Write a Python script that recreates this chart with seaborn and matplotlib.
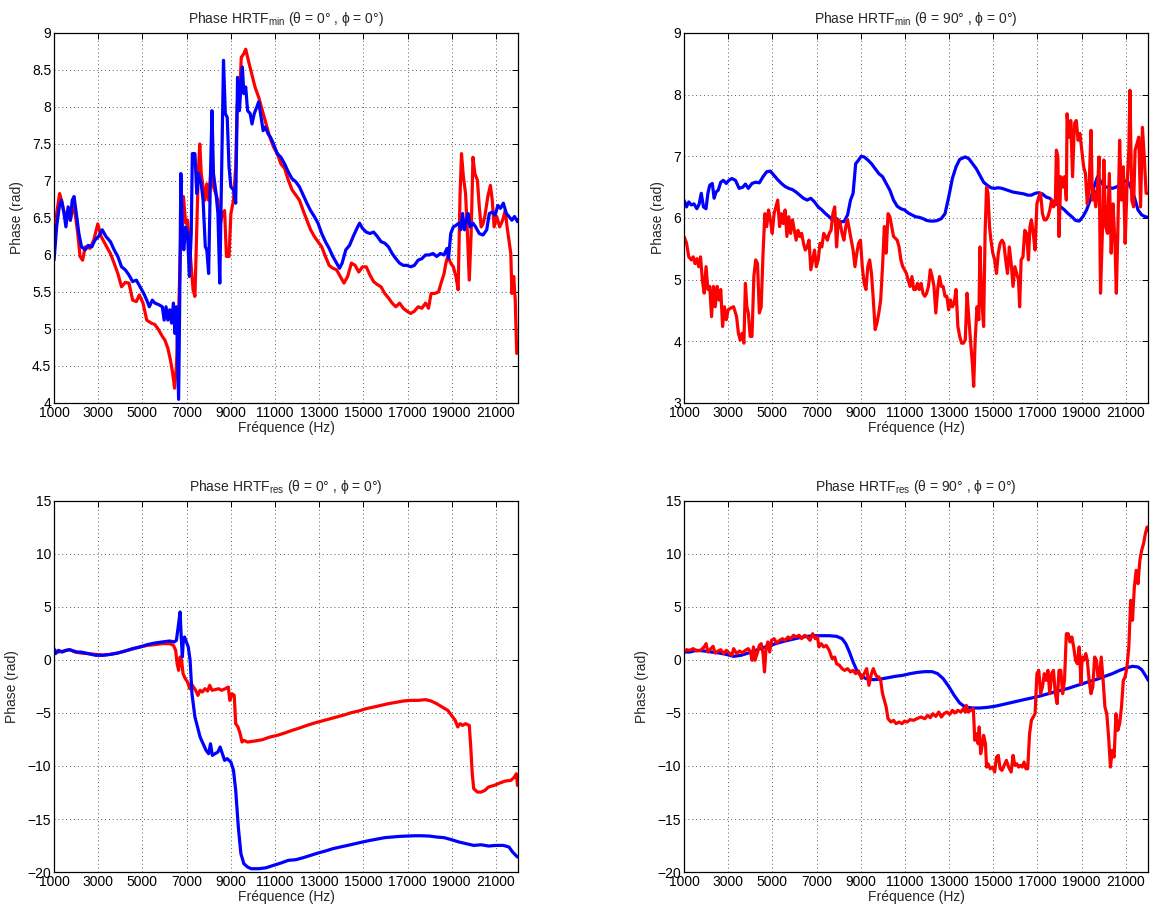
import matplotlib
matplotlib.use("Agg")
import matplotlib.pyplot as plt
import seaborn as sns

# top left: HRTF min, theta = 0
tl_red = [(1000, 6.02), (1117, 6.56), (1252, 6.83), (1369, 6.70), (1487, 6.52), (1621, 6.60), (1738, 6.47),
          (1873, 6.65), (1956, 6.56), (2074, 6.29), (2175, 5.98), (2292, 5.93), (2410, 6.11), (2628, 6.09),
          (2795, 6.20), (2980, 6.42), (3131, 6.25), (3383, 6.11), (3551, 6.02), (3718, 5.89), (3886, 5.75),
          (4054, 5.57), (4222, 5.63), (4390, 5.62), (4557, 5.39), (4725, 5.37), (4859, 5.46), (5027, 5.35),
          (5195, 5.12), (5396, 5.08), (5564, 5.06), (5732, 4.99), (5900, 4.90), (6017, 4.85), (6151, 4.74),
          (6269, 4.58), (6370, 4.40), (6454, 4.20), (6537, 4.49), (6655, 5.39), (6739, 6.29), (6856, 6.79),
          (6957, 6.43), (7041, 6.47), (7125, 6.16), (7209, 5.84), (7293, 5.53), (7376, 5.44), (7444, 6.20),
          (7527, 7.10), (7595, 7.50), (7662, 7.10), (7746, 6.92), (7829, 6.74), (7913, 6.96), (7997, 6.74),
          (8115, 7.19), (8215, 6.92), (8316, 6.83), (8417, 6.74), (8501, 6.38), (8618, 6.56), (8719, 6.60),
          (8803, 5.98), (8920, 5.98), (9004, 6.56), (9122, 6.74), (9222, 7.19), (9289, 8.04), (9390, 8.09),
          (9474, 8.67), (9591, 8.72), (9675, 8.78), (9793, 8.63), (9927, 8.47), (10095, 8.27), (10263, 8.13),
          (10430, 7.95), (10598, 7.77), (10766, 7.59), (10934, 7.46), (11102, 7.37), (11269, 7.23),
          (11437, 7.17), (11605, 7.01), (11773, 6.88), (11941, 6.81), (12108, 6.74), (12276, 6.60),
          (12444, 6.47), (12612, 6.34), (12780, 6.25), (12947, 6.18), (13115, 6.11), (13283, 5.98),
          (13451, 5.86), (13619, 5.82), (13786, 5.80), (13954, 5.71), (14122, 5.62), (14290, 5.71),
          (14458, 5.89), (14625, 5.86), (14793, 5.77), (14961, 5.84), (15129, 5.84), (15297, 5.73),
          (15464, 5.64), (15632, 5.60), (15800, 5.57), (15968, 5.48), (16136, 5.42), (16303, 5.35),
          (16471, 5.30), (16639, 5.35), (16807, 5.28), (16975, 5.24), (17142, 5.21), (17310, 5.24),
          (17478, 5.30), (17646, 5.28), (17814, 5.35), (17948, 5.28), (18065, 5.48), (18233, 5.48),
          (18401, 5.50), (18518, 5.62), (18653, 5.75), (18736, 5.89), (18820, 5.98), (18955, 5.89),
          (19072, 5.84), (19190, 5.71), (19290, 5.53), (19374, 6.79), (19442, 7.37), (19526, 7.06),
          (19626, 6.83), (19710, 6.29), (19794, 5.66), (19878, 6.29), (19962, 7.32), (20045, 7.10),
          (20163, 7.01), (20247, 6.65), (20331, 6.38), (20414, 6.42), (20498, 6.52), (20633, 6.79),
          (20750, 6.94), (20834, 6.74), (20918, 6.38), (21035, 6.52), (21170, 6.38), (21304, 6.47),
          (21421, 6.60), (21505, 6.38), (21589, 6.20), (21673, 6.02), (21723, 5.48), (21807, 5.71),
          (21874, 5.39), (21941, 4.67)]

tl_blue = [(1000, 5.93), (1117, 6.38), (1235, 6.65), (1336, 6.74), (1453, 6.56), (1537, 6.38), (1638, 6.65),
           (1738, 6.47), (1822, 6.74), (1906, 6.79), (2007, 6.56), (2124, 6.29), (2242, 6.11), (2410, 6.07),
           (2544, 6.13), (2712, 6.11), (2846, 6.20), (3014, 6.25), (3181, 6.34), (3349, 6.25), (3551, 6.18),
           (3718, 6.07), (3886, 5.98), (4054, 5.84), (4222, 5.80), (4390, 5.73), (4557, 5.64), (4725, 5.66),
           (4893, 5.57), (5061, 5.48), (5195, 5.39), (5312, 5.30), (5447, 5.39), (5564, 5.35), (5732, 5.33),
           (5900, 5.30), (5984, 5.12), (6068, 5.30), (6151, 5.12), (6235, 5.26), (6319, 5.08), (6403, 5.35),
           (6470, 4.94), (6537, 5.30), (6588, 4.67), (6638, 4.05), (6688, 5.39), (6739, 7.10), (6823, 6.20),
           (6873, 6.07), (6957, 6.38), (7041, 6.29), (7125, 5.71), (7209, 6.29), (7259, 7.37), (7376, 7.37),
           (7460, 6.83), (7544, 7.10), (7662, 6.96), (7746, 6.74), (7846, 6.11), (7913, 6.07), (7997, 5.75),
           (8081, 7.10), (8148, 7.95), (8215, 7.10), (8333, 6.83), (8417, 6.56), (8501, 5.62), (8585, 7.10),
           (8669, 8.63), (8752, 7.91), (8837, 7.86), (8920, 7.19), (9004, 6.92), (9122, 6.88), (9222, 6.70),
           (9306, 8.40), (9390, 7.95), (9457, 8.27), (9524, 8.54), (9591, 8.18), (9675, 8.27), (9759, 7.95),
           (9877, 7.91), (9961, 7.77), (10061, 7.91), (10179, 8.00), (10263, 8.07), (10346, 7.91),
           (10464, 7.68), (10565, 7.73), (10682, 7.64), (10800, 7.59), (10934, 7.50), (11102, 7.37),
           (11269, 7.32), (11437, 7.23), (11605, 7.12), (11773, 7.03), (11941, 6.99), (12108, 6.92),
           (12276, 6.81), (12444, 6.70), (12612, 6.60), (12780, 6.52), (12947, 6.43), (13115, 6.29),
           (13283, 6.18), (13451, 6.09), (13619, 5.98), (13786, 5.89), (13921, 5.82), (14038, 5.89),
           (14206, 6.07), (14374, 6.13), (14541, 6.25), (14709, 6.36), (14827, 6.43), (14961, 6.36),
           (15129, 6.31), (15297, 6.29), (15464, 6.31), (15632, 6.25), (15800, 6.18), (15968, 6.16),
           (16136, 6.11), (16303, 6.02), (16471, 5.95), (16639, 5.89), (16807, 5.86), (16975, 5.86),
           (17142, 5.84), (17310, 5.86), (17478, 5.93), (17646, 5.95), (17814, 6.00), (17981, 6.00),
           (18149, 6.02), (18317, 5.98), (18485, 6.02), (18653, 6.00), (18787, 6.09), (18854, 5.95),
           (18955, 6.29), (19072, 6.38), (19190, 6.40), (19324, 6.43), (19408, 6.34), (19492, 6.56),
           (19576, 6.34), (19660, 6.47), (19744, 6.56), (19828, 6.38), (19962, 6.43), (20079, 6.38),
           (20247, 6.29), (20414, 6.27), (20583, 6.34), (20700, 6.56), (20834, 6.58), (20968, 6.54),
           (21086, 6.67), (21203, 6.63), (21337, 6.70), (21472, 6.56), (21589, 6.52), (21723, 6.47),
           (21841, 6.52), (21975, 6.45)]

# top right: HRTF min, theta = 90
tr_red = [(1000, 5.70), (1116, 5.59), (1216, 5.37), (1333, 5.32), (1416, 5.37), (1499, 5.26), (1582, 5.34),
          (1666, 5.21), (1749, 5.37), (1832, 4.99), (1915, 4.78), (1998, 5.21), (2082, 4.84), (2165, 4.89),
          (2248, 4.40), (2331, 4.89), (2414, 4.56), (2498, 4.89), (2581, 4.67), (2664, 4.84), (2747, 4.24),
          (2830, 4.56), (2914, 4.35), (2997, 4.51), (3113, 4.54), (3246, 4.56), (3380, 4.40), (3463, 4.13),
          (3546, 4.02), (3629, 4.13), (3712, 3.97), (3779, 4.94), (3845, 4.56), (3912, 4.46), (3995, 4.08),
          (4078, 4.08), (4162, 5.05), (4245, 5.32), (4328, 5.26), (4411, 4.46), (4494, 4.56), (4578, 5.43),
          (4661, 6.07), (4744, 5.86), (4827, 6.13), (4910, 5.97), (4994, 5.75), (5077, 6.07), (5160, 6.18),
          (5243, 6.29), (5326, 5.86), (5410, 6.07), (5493, 5.91), (5576, 6.13), (5659, 5.70), (5742, 6.02),
          (5826, 5.75), (5909, 5.97), (5992, 5.80), (6075, 5.64), (6158, 5.80), (6242, 5.70), (6325, 5.75),
          (6408, 5.59), (6491, 5.48), (6574, 5.53), (6658, 5.64), (6741, 5.16), (6824, 5.32), (6907, 5.48),
          (6990, 5.21), (7074, 5.32), (7157, 5.59), (7240, 5.53), (7323, 5.75), (7406, 5.70), (7490, 5.64),
          (7573, 5.75), (7656, 5.80), (7739, 6.07), (7822, 6.18), (7906, 5.53), (7989, 5.97), (8072, 5.91),
          (8155, 5.75), (8238, 5.64), (8322, 5.86), (8405, 5.97), (8488, 5.80), (8571, 5.64), (8654, 5.48),
          (8738, 5.21), (8821, 5.43), (8904, 5.59), (8987, 5.64), (9070, 5.21), (9154, 4.94), (9237, 4.84),
          (9320, 5.21), (9403, 5.32), (9486, 5.10), (9570, 4.67), (9653, 4.19), (9736, 4.30), (9819, 4.46),
          (9902, 4.67), (9986, 5.21), (10069, 5.86), (10152, 5.43), (10235, 6.07), (10318, 6.02),
          (10402, 5.86), (10485, 5.70), (10568, 5.67), (10651, 5.64), (10734, 5.53), (10818, 5.32),
          (10901, 5.21), (10984, 5.16), (11067, 5.10), (11150, 4.99), (11234, 4.89), (11317, 5.05),
          (11400, 4.84), (11483, 4.84), (11566, 4.94), (11650, 4.84), (11733, 4.94), (11816, 4.78),
          (11899, 4.73), (11982, 4.78), (12066, 4.89), (12149, 5.16), (12232, 5.05), (12315, 4.89),
          (12398, 4.46), (12482, 4.84), (12565, 5.05), (12648, 4.89), (12731, 4.89), (12814, 4.73),
          (12898, 4.73), (12981, 4.51), (13064, 4.67), (13147, 4.56), (13230, 4.62), (13314, 4.84),
          (13397, 4.24), (13480, 4.08), (13563, 3.97), (13646, 3.97), (13730, 4.02), (13813, 4.78),
          (13896, 4.35), (13979, 3.97), (14062, 3.59), (14112, 3.27), (14179, 4.02), (14262, 4.56),
          (14345, 4.35), (14395, 5.53), (14478, 4.67), (14562, 4.24), (14628, 5.75), (14695, 6.50),
          (14761, 6.40), (14828, 5.86), (14894, 5.64), (14978, 5.43), (15061, 5.32), (15144, 5.10),
          (15227, 5.43), (15310, 5.59), (15394, 5.64), (15477, 5.59), (15560, 5.32), (15643, 5.10),
          (15726, 5.53), (15810, 5.26), (15893, 4.89), (15976, 5.21), (16059, 5.10), (16142, 4.99),
          (16192, 4.56), (16259, 5.32), (16342, 5.37), (16425, 5.80), (16508, 5.75), (16591, 5.32),
          (16658, 5.86), (16725, 5.97), (16808, 5.75), (16891, 5.48), (16974, 6.23), (17058, 6.34),
          (17141, 6.40), (17224, 6.07), (17307, 5.97), (17390, 5.97), (17474, 6.02), (17557, 6.13),
          (17640, 6.29), (17723, 6.18), (17806, 6.23), (17856, 7.10), (17923, 6.99), (17973, 5.70),
          (18056, 6.67), (18139, 6.50), (18222, 6.67), (18306, 6.29), (18339, 7.69), (18422, 7.31),
          (18505, 7.58), (18588, 6.67), (18672, 7.53), (18755, 7.58), (18838, 7.26), (18921, 7.37),
          (19005, 7.10), (19088, 6.83), (19171, 6.72), (19254, 6.23), (19337, 6.50), (19421, 7.42),
          (19487, 6.29), (19554, 6.45), (19637, 6.18), (19720, 6.50), (19787, 6.99), (19853, 4.78),
          (19936, 5.75), (20003, 6.94), (20086, 5.86), (20170, 5.75), (20252, 6.72), (20336, 5.43),
          (20419, 6.23), (20502, 5.64), (20569, 4.78), (20635, 5.75), (20718, 7.26), (20802, 6.29),
          (20885, 6.83), (20968, 5.59), (21051, 6.50), (21134, 7.10), (21184, 8.07), (21267, 6.29),
          (21350, 6.18), (21417, 7.10), (21500, 7.20), (21583, 7.31), (21666, 6.18), (21750, 7.47),
          (21833, 6.99), (21916, 6.40), (22016, 6.40)]

tr_blue = [(1000, 6.29), (1116, 6.18), (1216, 6.26), (1333, 6.21), (1449, 6.23), (1582, 6.15), (1682, 6.22),
           (1782, 6.40), (1882, 6.18), (1998, 6.15), (2082, 6.40), (2165, 6.53), (2281, 6.56), (2364, 6.32),
           (2448, 6.42), (2548, 6.45), (2664, 6.58), (2780, 6.61), (2914, 6.56), (3030, 6.61), (3163, 6.64),
           (3330, 6.61), (3496, 6.48), (3662, 6.50), (3779, 6.55), (3912, 6.48), (4078, 6.56), (4245, 6.58),
           (4411, 6.57), (4578, 6.67), (4744, 6.75), (4910, 6.76), (5077, 6.69), (5243, 6.62), (5410, 6.56),
           (5576, 6.51), (5742, 6.48), (5909, 6.46), (6075, 6.42), (6242, 6.37), (6408, 6.32), (6574, 6.29),
           (6741, 6.32), (6907, 6.26), (7074, 6.18), (7240, 6.13), (7406, 6.07), (7573, 6.02), (7739, 5.96),
           (7906, 5.99), (8072, 5.94), (8238, 5.94), (8405, 6.05), (8538, 6.29), (8654, 6.40), (8771, 6.88),
           (8904, 6.94), (9020, 7.00), (9154, 6.99), (9320, 6.94), (9486, 6.88), (9653, 6.80), (9819, 6.72),
           (9986, 6.67), (10152, 6.56), (10318, 6.45), (10485, 6.29), (10651, 6.19), (10818, 6.15),
           (10984, 6.13), (11150, 6.08), (11317, 6.05), (11483, 6.02), (11650, 6.01), (11816, 5.99),
           (11982, 5.96), (12149, 5.95), (12315, 5.95), (12482, 5.96), (12648, 5.99), (12814, 6.07),
           (12981, 6.34), (13147, 6.64), (13314, 6.83), (13480, 6.95), (13730, 6.99), (13896, 6.96),
           (14062, 6.88), (14229, 6.80), (14395, 6.69), (14562, 6.58), (14728, 6.53), (14894, 6.49),
           (15061, 6.48), (15227, 6.49), (15394, 6.48), (15560, 6.46), (15726, 6.44), (15893, 6.42),
           (16059, 6.41), (16226, 6.40), (16392, 6.39), (16558, 6.37), (16725, 6.37), (16891, 6.40),
           (17058, 6.41), (17224, 6.39), (17390, 6.34), (17557, 6.32), (17723, 6.26), (17890, 6.22),
           (18056, 6.18), (18222, 6.13), (18389, 6.07), (18555, 6.02), (18722, 5.96), (18888, 5.95),
           (19054, 6.02), (19221, 6.13), (19387, 6.29), (19554, 6.50), (19720, 6.67), (19886, 6.58),
           (20053, 6.50), (20219, 6.50), (20386, 6.48), (20552, 6.50), (20718, 6.53), (20885, 6.58),
           (21051, 6.61), (21218, 6.50), (21384, 6.34), (21550, 6.13), (21716, 6.05), (21883, 6.02),
           (22016, 6.01)]

# bottom left: HRTF res, theta = 0
bl_red = [(1000, 0.91), (1201, 0.75), (1453, 0.85), (1705, 0.97), (1956, 0.75), (2208, 0.66), (2544, 0.60),
          (2879, 0.53), (3215, 0.47), (3551, 0.53), (3886, 0.66), (4222, 0.85), (4557, 1.04), (4893, 1.23),
          (5229, 1.38), (5564, 1.45), (5900, 1.54), (6235, 1.54), (6403, 1.38), (6504, 0.91), (6571, -0.35),
          (6638, -0.98), (6705, 0.28), (6772, -0.03), (6839, -1.29), (6940, -1.76), (7041, -2.08),
          (7141, -2.71), (7209, -2.23), (7309, -2.55), (7410, -2.86), (7511, -3.34), (7611, -2.86),
          (7712, -3.02), (7829, -2.71), (7947, -2.93), (8048, -2.39), (8148, -2.86), (8283, -2.80),
          (8450, -2.71), (8585, -2.86), (8752, -2.71), (8887, -2.55), (8954, -3.81), (9054, -3.18),
          (9155, -3.34), (9222, -6.01), (9323, -6.32), (9424, -6.95), (9507, -7.74), (9591, -7.58),
          (9759, -7.74), (10095, -7.64), (10430, -7.52), (10766, -7.27), (11102, -7.11), (11437, -6.89),
          (11773, -6.64), (12108, -6.42), (12444, -6.17), (12780, -5.95), (13115, -5.76), (13451, -5.57),
          (13786, -5.38), (14122, -5.19), (14458, -4.97), (14793, -4.81), (15129, -4.59), (15464, -4.44),
          (15800, -4.28), (16136, -4.12), (16471, -4.00), (16807, -3.87), (17142, -3.81), (17478, -3.81),
          (17814, -3.74), (18065, -3.87), (18317, -4.12), (18569, -4.44), (18820, -4.75), (18988, -5.22),
          (19156, -5.69), (19273, -6.32), (19374, -6.01), (19492, -6.17), (19626, -6.01), (19794, -6.17),
          (19861, -8.21), (19928, -10.73), (19995, -12.14), (20163, -12.46), (20331, -12.46),
          (20498, -12.30), (20666, -11.98), (20918, -11.83), (21170, -11.61), (21421, -11.42),
          (21673, -11.36), (21841, -11.04), (21925, -10.73), (21975, -11.83)]

bl_blue = [(1000, 1.07), (1067, 0.60), (1201, 0.91), (1369, 0.75), (1537, 0.91), (1705, 0.97), (1873, 0.85),
           (2040, 0.75), (2208, 0.75), (2544, 0.60), (2879, 0.44), (3215, 0.44), (3551, 0.53), (3886, 0.66),
           (4222, 0.85), (4557, 1.07), (4893, 1.23), (5229, 1.45), (5564, 1.60), (5900, 1.70), (6235, 1.79),
           (6437, 1.70), (6537, 1.85), (6638, 3.43), (6705, 4.53), (6756, 2.17), (6806, 0.28), (6856, 2.01),
           (6907, 2.17), (6990, 1.70), (7074, 1.23), (7158, -0.03), (7242, -3.18), (7376, -5.38),
           (7494, -6.32), (7611, -7.27), (7746, -7.90), (7880, -8.52), (7997, -8.84), (8081, -7.90),
           (8165, -9.00), (8283, -8.84), (8417, -8.68), (8517, -8.21), (8618, -8.84), (8719, -9.47),
           (8837, -9.31), (9004, -9.63), (9122, -10.41), (9222, -12.30), (9340, -15.76), (9457, -18.27),
           (9591, -19.22), (9759, -19.53), (9927, -19.69), (10263, -19.69), (10598, -19.60), (10934, -19.37),
           (11269, -19.15), (11605, -18.90), (11941, -18.84), (12276, -18.65), (12612, -18.43),
           (12947, -18.21), (13283, -18.02), (13619, -17.80), (13954, -17.64), (14290, -17.49),
           (14625, -17.33), (14961, -17.17), (15297, -17.02), (15632, -16.89), (15968, -16.76),
           (16303, -16.70), (16639, -16.64), (16975, -16.61), (17310, -16.58), (17646, -16.58),
           (17981, -16.61), (18317, -16.70), (18653, -16.76), (18988, -16.95), (19324, -17.17),
           (19660, -17.33), (19995, -17.49), (20331, -17.43), (20666, -17.55), (21002, -17.49),
           (21337, -17.49), (21589, -17.64), (21757, -18.12), (21975, -18.59)]

# bottom right: HRTF res, theta = 90
br_red = [(1000, 0.75), (1116, 0.97), (1250, 0.91), (1416, 1.07), (1582, 0.85), (1749, 0.91), (1915, 1.23),
          (1998, 1.54), (2082, 0.75), (2215, 1.07), (2315, 1.29), (2414, 0.66), (2548, 0.85), (2664, 0.97),
          (2797, 0.60), (2914, 0.91), (3047, 0.66), (3163, 0.44), (3246, 1.07), (3380, 0.60), (3513, 0.85),
          (3646, 0.66), (3779, 0.91), (3912, 1.07), (4012, 0.75), (4078, -0.03), (4145, 1.23), (4212, -0.03),
          (4311, 0.60), (4411, 1.38), (4494, 1.54), (4578, 0.60), (4644, -1.13), (4711, 1.07), (4794, 1.70),
          (4877, 0.75), (4960, 1.85), (5077, 2.01), (5193, 1.60), (5326, 1.85), (5460, 2.01), (5576, 1.85),
          (5709, 2.17), (5826, 2.01), (5959, 2.33), (6075, 2.17), (6208, 2.33), (6325, 2.01), (6458, 2.33),
          (6574, 2.17), (6708, 1.85), (6824, 2.48), (6940, 2.01), (7040, 2.17), (7107, 1.23), (7207, 1.54),
          (7323, 1.23), (7440, 1.38), (7573, 0.91), (7706, 0.12), (7822, 0.28), (7906, -0.35), (8039, -0.51),
          (8155, -0.82), (8272, -0.98), (8405, -0.82), (8538, -1.13), (8654, -0.98), (8771, -1.29),
          (8904, -1.04), (9037, -1.76), (9154, -1.29), (9270, -0.82), (9370, -2.39), (9486, -1.29),
          (9570, -0.82), (9653, -1.29), (9736, -1.60), (9819, -1.60), (9902, -1.92), (9986, -3.18),
          (10069, -3.81), (10152, -4.44), (10235, -5.54), (10368, -5.85), (10485, -5.69), (10601, -6.01),
          (10734, -5.85), (10868, -6.01), (10984, -5.76), (11100, -5.85), (11234, -5.63), (11400, -5.69),
          (11566, -5.51), (11733, -5.38), (11899, -5.54), (12032, -5.22), (12149, -5.44), (12265, -5.07),
          (12398, -5.32), (12532, -4.91), (12648, -5.38), (12765, -5.07), (12898, -4.91), (13031, -5.13),
          (13147, -4.75), (13264, -5.00), (13397, -4.75), (13530, -4.91), (13646, -4.59), (13730, -4.91),
          (13780, -4.28), (13863, -4.91), (13979, -4.75), (14096, -4.59), (14162, -7.58), (14229, -6.95),
          (14312, -7.90), (14362, -6.32), (14428, -8.84), (14512, -7.90), (14562, -7.11), (14645, -7.90),
          (14695, -10.10), (14761, -9.79), (14861, -10.26), (14978, -10.10), (15061, -10.57), (15144, -9.16),
          (15227, -9.00), (15310, -10.26), (15394, -10.41), (15493, -9.94), (15593, -9.47), (15693, -10.10),
          (15810, -10.57), (15893, -9.00), (15976, -9.94), (16059, -9.79), (16142, -10.10), (16226, -9.94),
          (16309, -10.10), (16392, -9.63), (16475, -10.26), (16558, -10.26), (16642, -6.95), (16725, -5.69),
          (16808, -5.38), (16891, -5.07), (16974, -1.29), (17058, -0.98), (17141, -3.18), (17224, -2.55),
          (17307, -1.29), (17390, -1.92), (17474, -0.98), (17557, -3.18), (17640, -1.29), (17723, -0.98),
          (17806, -3.18), (17890, -4.12), (17973, -0.98), (18056, -0.98), (18139, -3.18), (18222, -1.92),
          (18306, 2.48), (18389, 2.48), (18472, 1.70), (18555, 2.17), (18638, 1.23), (18722, -0.03),
          (18805, -0.35), (18888, 1.23), (18971, -2.23), (19021, 0.28), (19088, -0.03), (19188, 0.60),
          (19254, -0.03), (19337, -1.92), (19421, -3.18), (19504, -2.55), (19587, 0.28), (19670, -0.03),
          (19737, -1.60), (19803, -1.60), (19886, 0.28), (19970, -1.92), (20053, -4.44), (20136, -5.07),
          (20219, -7.27), (20302, -10.10), (20386, -8.52), (20469, -9.16), (20552, -5.07), (20635, -6.64),
          (20718, -6.01), (20802, -4.44), (20885, -1.92), (20968, -1.60), (21051, -0.66), (21134, 1.23),
          (21218, 5.63), (21301, 3.74), (21384, 6.89), (21467, 8.46), (21550, 7.20), (21634, 9.40),
          (21716, 10.35), (21800, 10.97), (21883, 11.92), (21966, 12.55), (22016, 12.23)]

br_blue = [(1000, 0.75), (1250, 0.75), (1582, 0.91), (1915, 0.85), (2248, 0.75), (2581, 0.66), (2914, 0.53),
           (3246, 0.34), (3579, 0.44), (3912, 0.66), (4245, 0.91), (4578, 1.16), (4910, 1.38), (5243, 1.60),
           (5576, 1.79), (5909, 1.95), (6242, 2.11), (6574, 2.23), (6907, 2.29), (7240, 2.29), (7573, 2.29),
           (7906, 2.23), (8155, 2.01), (8322, 1.54), (8488, 0.75), (8654, -0.19), (8821, -0.98), (8987, -1.45),
           (9237, -1.76), (9570, -1.86), (9902, -1.80), (10235, -1.67), (10568, -1.54), (10901, -1.45),
           (11234, -1.29), (11566, -1.17), (11899, -1.10), (12232, -1.10), (12482, -1.29), (12731, -1.76),
           (12981, -2.49), (13230, -3.34), (13480, -4.06), (13730, -4.44), (14062, -4.53), (14395, -4.53),
           (14728, -4.47), (15061, -4.37), (15394, -4.22), (15726, -4.06), (16059, -3.90), (16392, -3.74),
           (16725, -3.59), (17058, -3.43), (17390, -3.24), (17723, -3.05), (18056, -2.86), (18389, -2.68),
           (18722, -2.45), (19054, -2.23), (19387, -2.01), (19720, -1.80), (20053, -1.54), (20386, -1.29),
           (20718, -0.98), (21051, -0.73), (21301, -0.60), (21550, -0.66), (21716, -0.91), (21883, -1.45),
           (22016, -1.92)]

x_ticks = [1000, 3000, 5000, 7000, 9000, 11000, 13000, 15000, 17000, 19000, 21000]

sns.set_theme(style="white")
plt.rcParams["font.family"] = ["Liberation Sans", "DejaVu Sans"]
plt.rcParams["mathtext.default"] = "regular"
plt.rcParams["axes.unicode_minus"] = True

fig = plt.figure(figsize=(11.55, 9.13), dpi=100)

# axes rectangles in figure fractions (left, bottom, width, height)
panels = [
    dict(rect=[0.0468, 0.5586, 0.4017, 0.4053], lines=[tl_red, tl_blue], top_red=False,
         ylim=(4, 9), yticks=[4, 4.5, 5, 5.5, 6, 6.5, 7, 7.5, 8, 8.5, 9],
         title=r"Phase HRTF$_{min}$ (θ = 0° , ϕ = 0°)"),
    dict(rect=[0.5922, 0.5586, 0.4017, 0.4053], lines=[tr_blue, tr_red], top_red=True,
         ylim=(3, 9), yticks=[3, 4, 5, 6, 7, 8, 9],
         title=r"Phase HRTF$_{min}$ (θ = 90° , ϕ = 0°)"),
    dict(rect=[0.0468, 0.0449, 0.4017, 0.4064], lines=[bl_red, bl_blue], top_red=False,
         ylim=(-20, 15), yticks=[-20, -15, -10, -5, 0, 5, 10, 15],
         title=r"Phase HRTF$_{res}$ (θ = 0° , ϕ = 0°)"),
    dict(rect=[0.5922, 0.0449, 0.4017, 0.4064], lines=[br_blue, br_red], top_red=True,
         ylim=(-20, 15), yticks=[-20, -15, -10, -5, 0, 5, 10, 15],
         title=r"Phase HRTF$_{res}$ (θ = 90° , ϕ = 0°)"),
]

for p in panels:
    ax = fig.add_axes(p["rect"])
    first, second = p["lines"]
    colors = ["blue", "red"] if p["top_red"] else ["red", "blue"]
    for series, col in zip([first, second], colors):
        fx = [pt[0] for pt in series]
        fy = [pt[1] for pt in series]
        sns.lineplot(x=fx, y=fy, ax=ax, color=col, linewidth=2.3,
                     estimator=None, sort=False)

    ax.set_xlim(1000, 22000)
    ax.set_ylim(*p["ylim"])
    ax.set_xticks(x_ticks)
    ax.set_xticklabels([str(t) for t in x_ticks])
    ax.set_yticks(p["yticks"])
    ax.set_yticklabels([f"{t:g}".replace("-", "\u2212") for t in p["yticks"]])

    ax.grid(True, linestyle=(0, (1, 3)), color="0.35", linewidth=0.7)
    ax.tick_params(direction="in", length=4, width=0.7, top=True, right=True,
                   labelsize=10, pad=2, colors="black")
    for s in ax.spines.values():
        s.set_color("black")
        s.set_linewidth(0.9)

    ax.set_title(p["title"], fontsize=10, pad=7)
    ax.set_xlabel("Fréquence (Hz)", fontsize=10, labelpad=1)
    ax.set_ylabel("Phase (rad)", fontsize=10, labelpad=6)

fig.savefig("out.png", dpi=100)
